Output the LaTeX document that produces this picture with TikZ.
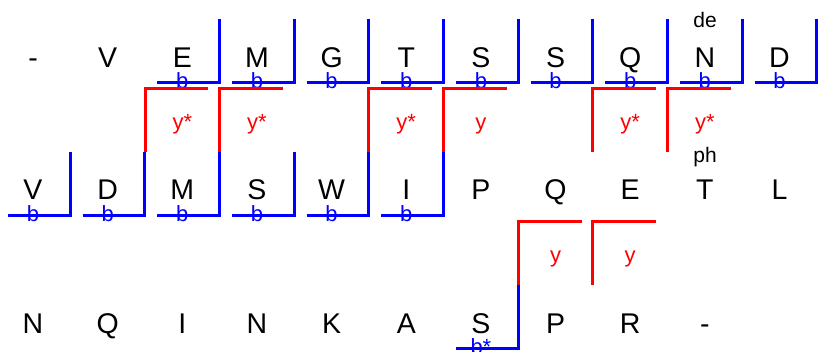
\documentclass[tikz,border=0pt]{standalone}
\usepackage{fontspec}
\setmainfont{Liberation Sans}
\tikzset{
  res/.style={font=\fontsize{28.5}{28.5}\selectfont, inner sep=0pt, anchor=base},
  blab/.style={font=\fontsize{22}{22}\selectfont, text=blue, inner sep=0pt, anchor=base},
  ylab/.style={font=\fontsize{22}{22}\selectfont, text=red, inner sep=0pt, anchor=base},
  modlab/.style={font=\fontsize{21}{21}\selectfont, inner sep=0pt, anchor=base},
  bion/.style={draw=blue, line width=3pt},
  yion/.style={draw=red, line width=3pt},
}
\begin{document}
\begin{tikzpicture}[x=1pt,y=-1pt]
\useasboundingbox (0,0) rectangle (821,351);
% residues
\foreach \i/\t in {0/-,1/V,2/E,3/M,4/G,5/T,6/S,7/S,8/Q,9/N,10/D}
  \node[res] (ra\i) at ({33+74.65*\i},67) {\t};
\foreach \i/\t in {0/V,1/D,2/M,3/S,4/W,5/I,6/P,7/Q,8/E,9/T,10/L}
  \node[res] (rb\i) at ({33+74.65*\i},199) {\t};
\foreach \i/\t in {0/N,1/Q,2/I,3/N,4/K,5/A,6/S,7/P,8/R,9/-}
  \node[res] (rc\i) at ({33+74.65*\i},333) {\t};
% b ions
\foreach \i in {2,...,10}{
  \pgfmathsetmacro\cx{33+74.65*\i}
  \coordinate (ba\i) at (\cx-25,82);
  \draw[bion] (ba\i) -- ++(62.3,0) -- ++(0,-63.5);
  \node[blab] (lba\i) at (\cx,88) {b};
}
\foreach \i in {0,...,5}{
  \pgfmathsetmacro\cx{33+74.65*\i}
  \coordinate (bb\i) at (\cx-25,215.5);
  \draw[bion] (bb\i) -- ++(62.3,0) -- ++(0,-63.5);
  \node[blab] (lbb\i) at (\cx,221.5) {b};
}
\foreach \i in {6}{
  \pgfmathsetmacro\cx{33+74.65*\i}
  \coordinate (bc\i) at (\cx-25,348.5);
  \draw[bion] (bc\i) -- ++(62.3,0) -- ++(0,-63.5);
  \node[blab] (lbc\i) at (\cx,354.5) {b*};
}
% y ions
\foreach \i/\t in {2/y*,3/y*,5/y*,6/y,8/y*,9/y*}{
  \pgfmathsetmacro\cx{33+74.65*\i}
  \coordinate (yb\i) at (\cx+26,88);
  \draw[yion] (yb\i) -- ++(-63.3,0) -- ++(0,64);
  \node[ylab] (lyb\i) at (\cx,129) {\t};
}
\foreach \i/\t in {7/y,8/y}{
  \pgfmathsetmacro\cx{33+74.65*\i}
  \coordinate (yc\i) at (\cx+26,221);
  \draw[yion] (yc\i) -- ++(-63.3,0) -- ++(0,64);
  \node[ylab] (lyc\i) at (\cx,262) {\t};
}
% modifications
\node[modlab] (de) at (705,27) {de};
\node[modlab] (ph) at (705,162) {ph};
\end{tikzpicture}
\end{document}
